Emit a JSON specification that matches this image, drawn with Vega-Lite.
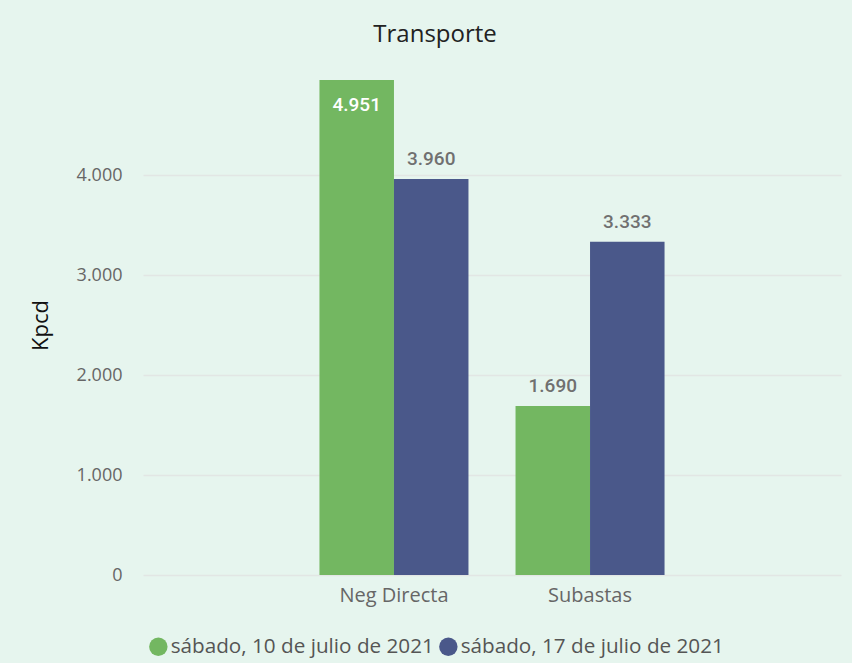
{
  "$schema": "https://vega.github.io/schema/vega-lite/v6.json",
  "autosize": {"type": "none"},
  "padding": {"left": 143, "top": 75, "right": 11, "bottom": 88},
  "width": 698,
  "height": 500,
  "background": "#E6F5EE",
  "config": {
    "locale": {"number": {"decimal": ",", "thousands": ".", "grouping": [3], "currency": ["", "€"]}},
    "view": {"stroke": null},
    "font": "Open Sans"
  },
  "title": {
    "text": "Transporte",
    "fontSize": 24,
    "fontWeight": "normal",
    "color": "#222222",
    "font": "Open Sans",
    "anchor": "middle",
    "frame": "bounds",
    "offset": 28
  },
  "data": {
    "values": [
      {"categoria": "Neg Directa", "fecha": "sábado, 10 de julio de 2021", "value": 4951},
      {"categoria": "Neg Directa", "fecha": "sábado, 17 de julio de 2021", "value": 3960},
      {"categoria": "Subastas", "fecha": "sábado, 10 de julio de 2021", "value": 1690},
      {"categoria": "Subastas", "fecha": "sábado, 17 de julio de 2021", "value": 3333}
    ]
  },
  "encoding": {
    "x": {
      "field": "categoria",
      "type": "nominal",
      "title": null,
      "scale": {"paddingInner": 0.24, "paddingOuter": 0.9},
      "axis": {"labelAngle": 0, "ticks": false, "domain": false, "labelFontSize": 20, "labelColor": "#666666", "labelPadding": 10, "labelFont": "Open Sans"}
    },
    "xOffset": {"field": "fecha", "type": "nominal", "scale": {"paddingInner": 0}},
    "y": {
      "field": "value",
      "type": "quantitative",
      "title": "Kpcd",
      "scale": {"domain": [0, 5000], "nice": false},
      "axis": {
        "values": [0, 1000, 2000, 3000, 4000],
        "format": ",.0f",
        "ticks": false,
        "domain": false,
        "labelFontSize": 18,
        "labelColor": "#666666",
        "labelPadding": 21,
        "labelFont": "Open Sans",
        "gridColor": "#E2E6E4",
        "gridWidth": 1.5,
        "titleFontSize": 22,
        "titleFontWeight": "normal",
        "titleColor": "#111111",
        "titlePadding": 24,
        "titleFont": "Open Sans"
      }
    }
  },
  "layer": [
    {
      "mark": {"type": "bar"},
      "encoding": {
        "color": {
          "field": "fecha",
          "type": "nominal",
          "scale": {"range": ["#73B761", "#4A588A"]},
          "legend": {
            "title": null,
            "orient": "none",
            "direction": "horizontal",
            "legendX": 5,
            "legendY": 561,
            "symbolType": "circle",
            "symbolSize": 340,
            "symbolStrokeWidth": 0,
            "labelFontSize": 20.7,
            "labelColor": "#555555",
            "labelFont": "Open Sans",
            "labelLimit": 400,
            "labelOffset": 2,
            "columnPadding": 4
          }
        }
      }
    },
    {
      "transform": [{"filter": "datum.value < 4500"}],
      "mark": {"type": "text", "baseline": "middle", "dy": -20, "fontSize": 19, "fontWeight": 500, "color": "#707070", "font": "Roboto"},
      "encoding": {"text": {"field": "value", "type": "quantitative", "format": ",.0f"}}
    },
    {
      "transform": [{"filter": "datum.value >= 4500"}],
      "mark": {"type": "text", "baseline": "middle", "dy": 25, "fontSize": 19, "fontWeight": 500, "color": "#FFFFFF", "font": "Roboto"},
      "encoding": {"text": {"field": "value", "type": "quantitative", "format": ",.0f"}}
    }
  ]
}
